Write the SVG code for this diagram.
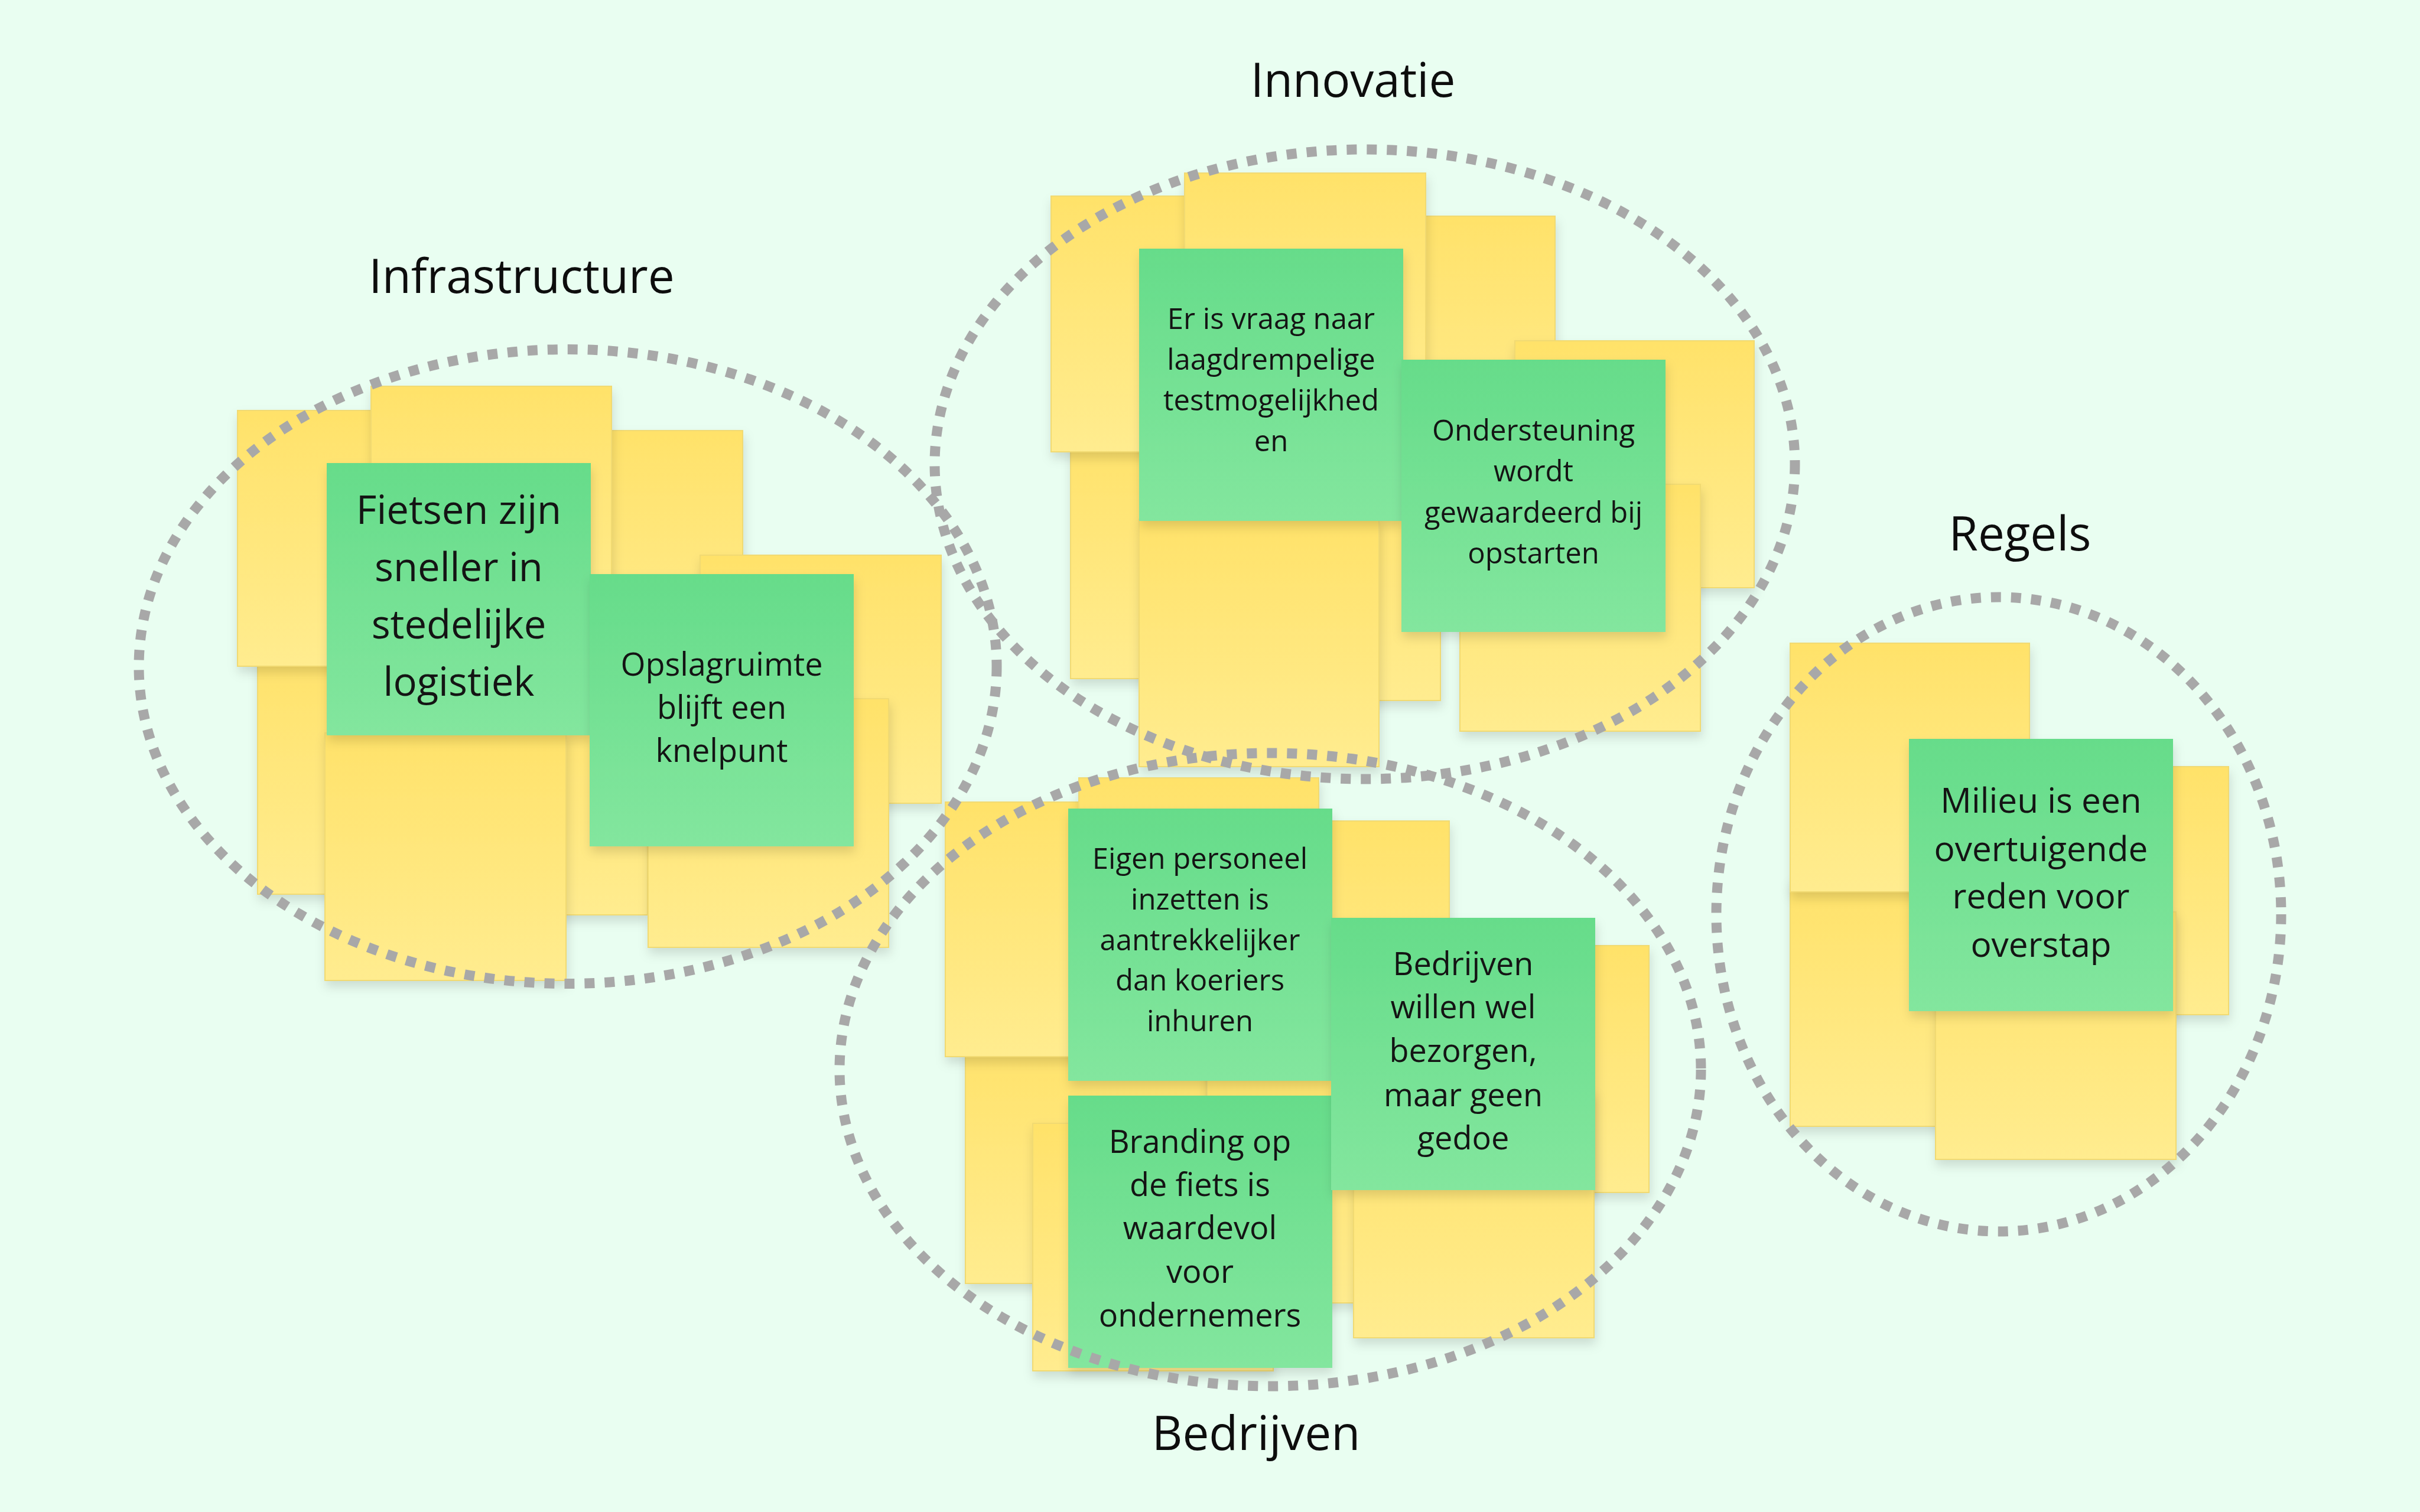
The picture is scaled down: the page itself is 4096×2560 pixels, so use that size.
<svg xmlns="http://www.w3.org/2000/svg" width="4096" height="2560" viewBox="0 0 4096 2560">
<defs>
<linearGradient id="gy" x1="0" y1="0" x2="0" y2="1"><stop offset="0" stop-color="#FFE26A"/><stop offset="1" stop-color="#FFEC8F"/></linearGradient>
<linearGradient id="gg" x1="0" y1="0" x2="0" y2="1"><stop offset="0" stop-color="#66DC8A"/><stop offset="1" stop-color="#83E69E"/></linearGradient>
<filter id="sh" x="-10%" y="-10%" width="125%" height="130%"><feDropShadow dx="2" dy="10" stdDeviation="9" flood-color="#000" flood-opacity="0.13"/></filter>
<style>
.y{fill:url(#gy);stroke:#F1DA72;stroke-width:2;filter:url(#sh)}
.g{fill:url(#gg);filter:url(#sh)}
.t{font-family:"Open Sans","Noto Sans",sans-serif;fill:#141414;text-anchor:middle}
.h{font-family:"Open Sans","Noto Sans",sans-serif;fill:#0d0d0d;text-anchor:middle;font-size:80px}
.c{fill:none;stroke:#A8A8A8;stroke-width:17;stroke-dasharray:17 17}
</style>
</defs>
<rect width="4096" height="2560" fill="#E9FEF1"/>

<g id="titles">
<text class="h" x="2290" y="164">Innovatie</text>
<text class="h" x="883" y="496">Infrastructure</text>
<text class="h" x="3419" y="932">Regels</text>
<text class="h" x="2126" y="2455">Bedrijven</text>
</g>

<g id="infrastructure">
<rect id="inf-y4" class="y" x="436" y="1095" width="407" height="419"/>
<rect id="inf-y8" class="y" x="689" y="1130" width="407" height="419"/>
<rect id="inf-y5" class="y" x="550" y="1241" width="408" height="419"/>
<rect id="inf-y1" class="y" x="402" y="695" width="408" height="433"/>
<rect id="inf-y3" class="y" x="849" y="729" width="408" height="419"/>
<rect id="inf-y2" class="y" x="628" y="654" width="407" height="419"/>
<rect id="inf-y6" class="y" x="1185" y="940" width="408" height="420"/>
<rect id="inf-y7" class="y" x="1097" y="1183" width="407" height="421"/>
<g id="inf-g1">
<rect class="g" x="553" y="784" width="447" height="461"/>
<text class="t" font-size="67" x="776.5"><tspan x="776.5" y="887">Fietsen zijn</tspan><tspan x="776.5" y="984">sneller in</tspan><tspan x="776.5" y="1081">stedelijke</tspan><tspan x="776.5" y="1178">logistiek</tspan></text>
</g>
<g id="inf-g2">
<rect class="g" x="998" y="972" width="447" height="461"/>
<text class="t" font-size="54" x="1221.5"><tspan x="1221.5" y="1144">Opslagruimte</tspan><tspan x="1221.5" y="1217">blijft een</tspan><tspan x="1221.5" y="1290">knelpunt</tspan></text>
</g>
</g>

<g id="innovatie">
<rect id="inn-y5" class="y" x="1812" y="730" width="408" height="419"/>
<rect id="inn-y1" class="y" x="1779" y="332" width="408" height="433"/>
<rect id="inn-y3" class="y" x="2224" y="366" width="408" height="419"/>
<rect id="inn-y2" class="y" x="2005" y="293" width="408" height="419"/>
<rect id="inn-y4" class="y" x="2564" y="577" width="405" height="418"/>
<rect id="inn-y7" class="y" x="2030" y="767" width="408" height="419"/>
<rect id="inn-y6" class="y" x="1928" y="879" width="406" height="419"/>
<rect id="inn-y8" class="y" x="2471" y="820" width="407" height="418"/>
<g id="inn-g1">
<rect class="g" x="1928" y="421" width="447" height="461"/>
<text class="t" font-size="49"><tspan x="2151.5" y="557">Er is vraag naar</tspan><tspan x="2151.5" y="626">laagdrempelige</tspan><tspan x="2151.5" y="695">testmogelijkhed</tspan><tspan x="2151.5" y="764">en</tspan></text>
</g>
<g id="inn-g2">
<rect class="g" x="2372" y="609" width="447" height="461"/>
<text class="t" font-size="49"><tspan x="2595.5" y="746">Ondersteuning</tspan><tspan x="2595.5" y="815">wordt</tspan><tspan x="2595.5" y="885">gewaardeerd bij</tspan><tspan x="2595.5" y="954">opstarten</tspan></text>
</g>
</g>

<g id="bedrijven">
<rect id="bed-y5" class="y" x="1634" y="1754" width="408" height="419"/>
<rect id="bed-y1" class="y" x="1600" y="1358" width="408" height="431"/>
<rect id="bed-y3" class="y" x="2045" y="1390" width="408" height="419"/>
<rect id="bed-y2" class="y" x="1826" y="1317" width="406" height="419"/>
<rect id="bed-y4" class="y" x="2383" y="1601" width="408" height="418"/>
<rect id="bed-y7" class="y" x="2043" y="1787" width="408" height="419"/>
<rect id="bed-y6" class="y" x="1748" y="1902" width="407" height="419"/>
<rect id="bed-y8" class="y" x="2291" y="1846" width="407" height="419"/>
<g id="bed-g1">
<rect class="g" x="1808" y="1369" width="447" height="461"/>
<text class="t" font-size="49"><tspan x="2031" y="1471">Eigen personeel</tspan><tspan x="2031" y="1540">inzetten is</tspan><tspan x="2031" y="1609">aantrekkelijker</tspan><tspan x="2031" y="1677">dan koeriers</tspan><tspan x="2031" y="1746">inhuren</tspan></text>
</g>
<g id="bed-g2">
<rect class="g" x="1808" y="1855" width="447" height="461"/>
<text class="t" font-size="54"><tspan x="2031" y="1952">Branding op</tspan><tspan x="2031" y="2025">de fiets is</tspan><tspan x="2031" y="2098">waardevol</tspan><tspan x="2031" y="2172">voor</tspan><tspan x="2031" y="2246">ondernemers</tspan></text>
</g>
<g id="bed-g3">
<rect class="g" x="2253" y="1554" width="447" height="461"/>
<text class="t" font-size="54"><tspan x="2476.5" y="1651">Bedrijven</tspan><tspan x="2476.5" y="1724">willen wel</tspan><tspan x="2476.5" y="1798">bezorgen,</tspan><tspan x="2476.5" y="1873">maar geen</tspan><tspan x="2476.5" y="1946">gedoe</tspan></text>
</g>
</g>

<g id="regels">
<rect id="reg-y2" class="y" x="3030" y="1488" width="408" height="419"/>
<rect id="reg-y1" class="y" x="3030" y="1089" width="405" height="421"/>
<rect id="reg-y4" class="y" x="3364" y="1298" width="408" height="420"/>
<rect id="reg-y3" class="y" x="3276" y="1544" width="407" height="419"/>
<g id="reg-g1">
<rect class="g" x="3231" y="1251" width="447" height="461"/>
<text class="t" font-size="58.5"><tspan x="3454.5" y="1376">Milieu is een</tspan><tspan x="3454.5" y="1458">overtuigende</tspan><tspan x="3454.5" y="1538">reden voor</tspan><tspan x="3454.5" y="1620">overstap</tspan></text>
</g>
</g>

<g id="clusters">
<ellipse id="cl-infrastructure" class="c" cx="961" cy="1128.5" rx="726" ry="537"/>
<ellipse id="cl-innovatie" class="c" cx="2310" cy="786" rx="728" ry="533"/>
<ellipse id="cl-bedrijven" class="c" cx="2150" cy="1811" rx="729" ry="536"/>
<ellipse id="cl-regels" class="c" cx="3383" cy="1548" rx="478" ry="537"/>
</g>
</svg>
